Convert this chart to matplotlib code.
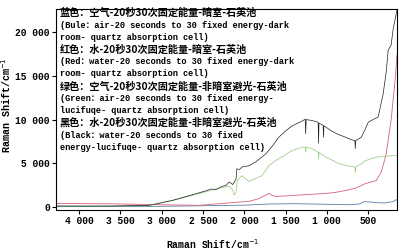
import numpy as np
from matplotlib import pyplot as plt

plt.rcParams['font.family'] = ['Liberation Mono', 'Noto Sans CJK SC', 'DejaVu Sans']
plt.rcParams['axes.unicode_minus'] = False

# 拉曼光谱数据 (横坐标 cm-1, 纵坐标强度)
black_wn = [4280, 3600, 3150, 2870, 2660, 2460, 2400, 2350, 2267, 2220,
            2183, 2140, 2100, 2090, 2060, 2026, 1942, 1858, 1738, 1650,
            1581, 1500, 1425, 1350, 1304, 1262, 1256, 1250, 1180, 1105,
            1100, 1095, 1045, 1040, 1035, 943, 860, 775, 700, 660,
            655, 650, 582, 540, 498, 420, 378, 318, 280, 257,
            221, 197, 150]
black_val = [150, 150, 230, 790, 1350, 1900, 2100, 2000, 2400, 2500,
             2900, 2600, 3200, 4400, 4300, 4600, 4750, 5200, 6100, 7100,
             8000, 8700, 9250, 9600, 9800, 10050, 8400, 10000, 9900, 9700,
             7300, 9600, 9350, 8000, 9300, 8700, 8300, 8000, 7700, 7600,
             6700, 7600, 8000, 8800, 9700, 10100, 10300, 12900, 15500, 17900,
             18500, 20300, 22500]

green_wn = [4280, 3600, 3150, 2870, 2660, 2460, 2267, 2183, 2140, 2123,
            2100, 2087, 2060, 2026, 1990, 1942, 1860, 1786, 1702, 1640,
            1581, 1500, 1425, 1350, 1262, 1256, 1250, 1180, 1105, 1100,
            1095, 1016, 940, 859, 780, 703, 660, 655, 650, 618,
            534, 450, 378, 300, 221, 150]
green_val = [150, 150, 230, 790, 1300, 1800, 2250, 2400, 2000, 1400,
             1700, 3000, 3300, 3600, 3300, 2950, 3300, 3600, 4750, 5200,
             5550, 6000, 6450, 6700, 6900, 6300, 6850, 6700, 6300, 5600,
             6250, 5750, 5400, 5000, 4800, 4650, 4600, 4000, 4600, 4750,
             5300, 5600, 5750, 5800, 5880, 5900]

red_wn = [4280, 3600, 3000, 2544, 2267, 1942, 1822, 1740, 1702, 1660,
          1617, 1500, 1425, 1220, 1016, 900, 775, 650, 534, 402,
          342, 282, 221, 173, 150]
red_val = [450, 400, 300, 230, 450, 680, 1000, 1400, 1600, 1350,
           1250, 1300, 1350, 1470, 1580, 1700, 1920, 2200, 2700, 3050,
           4000, 6000, 10000, 14500, 17400]

blue_wn = [4280, 3000, 2000, 1700, 1400, 1000, 700, 600, 550, 480, 420, 300, 200, 150]
blue_val = [80, 120, 250, 380, 420, 350, 300, 400, 650, 620, 550, 500, 650, 900]

x_ticks = [4000, 3500, 3000, 2500, 2000, 1500, 1000, 500]
y_ticks = [0, 5000, 10000, 15000, 20000]

legend_lines = [
    '蓝色：空气-20秒30次固定能量-暗室-石英池',
    '(Bule：air-20 seconds to 30 fixed energy-dark',
    'room- quartz absorption cell)',
    '红色：水-20秒30次固定能量-暗室-石英池',
    '(Red：water-20 seconds to 30 fixed energy-dark',
    'room- quartz absorption cell)',
    '绿色：空气-20秒30次固定能量-非暗室避光-石英池',
    '(Green：air-20 seconds to 30 fixed energy-',
    'lucifuqe- quartz absorption cell)',
    '黑色：水-20秒30次固定能量-非暗室避光-石英池',
    '(Black：water-20 seconds to 30 fixed',
    'energy-lucifuqe- quartz absorption cell)',
]
cn_rows = [0, 3, 6, 9]


def fmt(v):
    return '{:,}'.format(int(v)).replace(',', ' ')


fig = plt.figure(figsize=(4.08, 2.5), dpi=100)
ax = fig.add_axes([56 / 408, 40 / 250, 341 / 408, 201 / 250])

ax.plot(blue_wn, blue_val, color='#5b7fa6', lw=0.6)
ax.plot(red_wn, red_val, color='#d8607a', lw=0.6)
ax.plot(green_wn, green_val, color='#9fd08e', lw=0.6)
ax.plot(black_wn, black_val, color='#222222', lw=0.5)

ax.set_xlim(4280, 150)
ax.set_ylim(-300, 22600)
ax.set_xticks(x_ticks)
ax.set_xticklabels([fmt(v) for v in x_ticks])
ax.set_yticks(y_ticks)
ax.set_yticklabels([fmt(v) for v in y_ticks])
ax.tick_params(direction='out', length=3, width=0.8, labelsize=6.9, pad=1.5)
for lab in ax.get_xticklabels() + ax.get_yticklabels():
    lab.set_fontweight('bold')
for s in ax.spines.values():
    s.set_linewidth(0.8)

ax.set_xlabel('Raman Shift/cm$^{-1}$', fontsize=7, fontweight='bold')
ax.set_ylabel('Raman Shift/cm$^{-1}$', fontsize=7.2, fontweight='bold')
ax.xaxis.set_label_coords(0.46, -0.135)
ax.yaxis.set_label_coords(-0.126, 0.52)

# 图中说明文字
for i, line in enumerate(legend_lines):
    y = 1 - (13 + i * 12.2) / 250
    if i in cn_rows:
        fig.text(60 / 408, y, line, fontsize=7.3, fontweight='bold', va='center',
                 family=['Noto Sans CJK SC', 'DejaVu Sans'])
    else:
        fig.text(60 / 408, y, line, fontsize=6.2, fontweight='bold', va='center',
                 family=['Liberation Mono', 'Noto Sans CJK SC'])

plt.savefig('out.png', dpi=100)
